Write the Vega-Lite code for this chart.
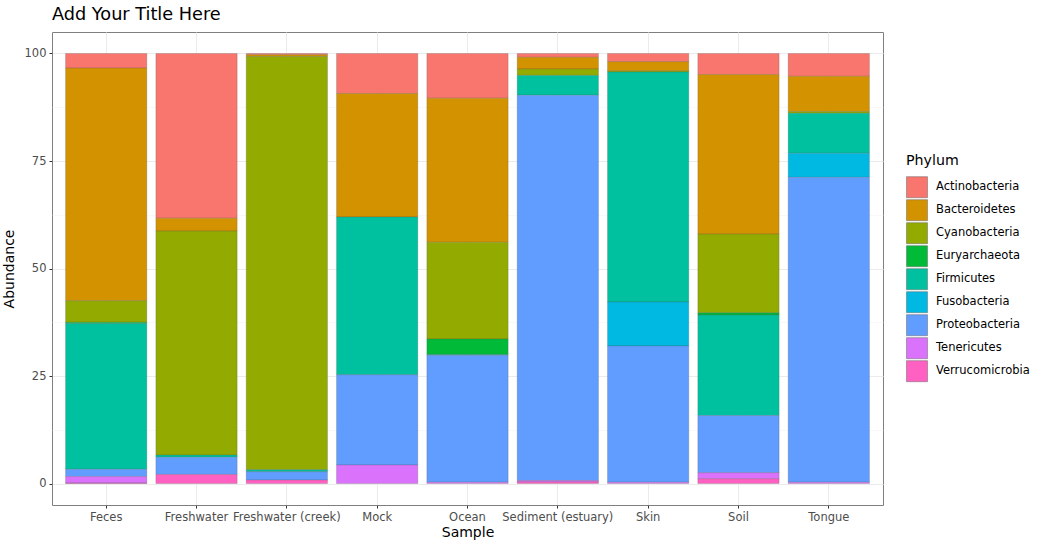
{
  "$schema": "https://vega.github.io/schema/vega-lite/v6.json",
  "autosize": {"type": "none"},
  "width": 831,
  "height": 473,
  "padding": {"left": 52, "top": 32, "right": 161, "bottom": 43},
  "background": "white",
  "config": {
    "font": "DejaVu Sans",
    "view": {"stroke": "#7f7f7f", "strokeWidth": 1},
    "axis": {"labelFont": "DejaVu Sans", "titleFont": "DejaVu Sans", "labelColor": "#4d4d4d", "labelFontSize": 11.5, "titleFontSize": 14, "titleFontWeight": "normal", "titleColor": "black", "tickColor": "#333333", "tickSize": 3, "domain": false, "gridColor": "#ebebeb"},
    "legend": {"labelFont": "DejaVu Sans", "titleFont": "DejaVu Sans"}
  },
  "title": {"text": "Add Your Title Here", "anchor": "start", "frame": "group", "fontSize": 17.7, "fontWeight": "normal", "font": "DejaVu Sans", "color": "black", "offset": 8},
  "data": {"values": [
    {"Sample": "Feces", "Phylum": "Actinobacteria", "Abundance": 3.4},
    {"Sample": "Feces", "Phylum": "Bacteroidetes", "Abundance": 54.1},
    {"Sample": "Feces", "Phylum": "Cyanobacteria", "Abundance": 5.0},
    {"Sample": "Feces", "Phylum": "Euryarchaeota", "Abundance": 0.3},
    {"Sample": "Feces", "Phylum": "Firmicutes", "Abundance": 33.9},
    {"Sample": "Feces", "Phylum": "Proteobacteria", "Abundance": 1.7},
    {"Sample": "Feces", "Phylum": "Tenericutes", "Abundance": 1.5},
    {"Sample": "Feces", "Phylum": "Verrucomicrobia", "Abundance": 0.1},
    {"Sample": "Freshwater", "Phylum": "Actinobacteria", "Abundance": 38.3},
    {"Sample": "Freshwater", "Phylum": "Bacteroidetes", "Abundance": 3.0},
    {"Sample": "Freshwater", "Phylum": "Cyanobacteria", "Abundance": 52.1},
    {"Sample": "Freshwater", "Phylum": "Firmicutes", "Abundance": 0.5},
    {"Sample": "Freshwater", "Phylum": "Proteobacteria", "Abundance": 4.0},
    {"Sample": "Freshwater", "Phylum": "Verrucomicrobia", "Abundance": 2.1},
    {"Sample": "Freshwater (creek)", "Phylum": "Actinobacteria", "Abundance": 0.3},
    {"Sample": "Freshwater (creek)", "Phylum": "Bacteroidetes", "Abundance": 0.4},
    {"Sample": "Freshwater (creek)", "Phylum": "Cyanobacteria", "Abundance": 96.1},
    {"Sample": "Freshwater (creek)", "Phylum": "Firmicutes", "Abundance": 0.45},
    {"Sample": "Freshwater (creek)", "Phylum": "Proteobacteria", "Abundance": 1.95},
    {"Sample": "Freshwater (creek)", "Phylum": "Verrucomicrobia", "Abundance": 0.8},
    {"Sample": "Mock", "Phylum": "Actinobacteria", "Abundance": 9.3},
    {"Sample": "Mock", "Phylum": "Bacteroidetes", "Abundance": 28.7},
    {"Sample": "Mock", "Phylum": "Firmicutes", "Abundance": 36.7},
    {"Sample": "Mock", "Phylum": "Proteobacteria", "Abundance": 21.0},
    {"Sample": "Mock", "Phylum": "Tenericutes", "Abundance": 4.3},
    {"Sample": "Ocean", "Phylum": "Actinobacteria", "Abundance": 10.4},
    {"Sample": "Ocean", "Phylum": "Bacteroidetes", "Abundance": 33.5},
    {"Sample": "Ocean", "Phylum": "Cyanobacteria", "Abundance": 22.5},
    {"Sample": "Ocean", "Phylum": "Euryarchaeota", "Abundance": 3.6},
    {"Sample": "Ocean", "Phylum": "Firmicutes", "Abundance": 0.2},
    {"Sample": "Ocean", "Phylum": "Proteobacteria", "Abundance": 29.5},
    {"Sample": "Ocean", "Phylum": "Tenericutes", "Abundance": 0.3},
    {"Sample": "Sediment (estuary)", "Phylum": "Actinobacteria", "Abundance": 0.9},
    {"Sample": "Sediment (estuary)", "Phylum": "Bacteroidetes", "Abundance": 2.7},
    {"Sample": "Sediment (estuary)", "Phylum": "Cyanobacteria", "Abundance": 1.5},
    {"Sample": "Sediment (estuary)", "Phylum": "Firmicutes", "Abundance": 4.6},
    {"Sample": "Sediment (estuary)", "Phylum": "Proteobacteria", "Abundance": 89.6},
    {"Sample": "Sediment (estuary)", "Phylum": "Tenericutes", "Abundance": 0.35},
    {"Sample": "Sediment (estuary)", "Phylum": "Verrucomicrobia", "Abundance": 0.35},
    {"Sample": "Skin", "Phylum": "Actinobacteria", "Abundance": 1.9},
    {"Sample": "Skin", "Phylum": "Bacteroidetes", "Abundance": 2.1},
    {"Sample": "Skin", "Phylum": "Cyanobacteria", "Abundance": 0.3},
    {"Sample": "Skin", "Phylum": "Firmicutes", "Abundance": 53.5},
    {"Sample": "Skin", "Phylum": "Fusobacteria", "Abundance": 10.2},
    {"Sample": "Skin", "Phylum": "Proteobacteria", "Abundance": 31.7},
    {"Sample": "Skin", "Phylum": "Tenericutes", "Abundance": 0.3},
    {"Sample": "Soil", "Phylum": "Actinobacteria", "Abundance": 4.9},
    {"Sample": "Soil", "Phylum": "Bacteroidetes", "Abundance": 37.1},
    {"Sample": "Soil", "Phylum": "Cyanobacteria", "Abundance": 18.3},
    {"Sample": "Soil", "Phylum": "Euryarchaeota", "Abundance": 0.5},
    {"Sample": "Soil", "Phylum": "Firmicutes", "Abundance": 23.4},
    {"Sample": "Soil", "Phylum": "Proteobacteria", "Abundance": 13.3},
    {"Sample": "Soil", "Phylum": "Tenericutes", "Abundance": 1.4},
    {"Sample": "Soil", "Phylum": "Verrucomicrobia", "Abundance": 1.1},
    {"Sample": "Tongue", "Phylum": "Actinobacteria", "Abundance": 5.3},
    {"Sample": "Tongue", "Phylum": "Bacteroidetes", "Abundance": 8.2},
    {"Sample": "Tongue", "Phylum": "Cyanobacteria", "Abundance": 0.4},
    {"Sample": "Tongue", "Phylum": "Firmicutes", "Abundance": 9.3},
    {"Sample": "Tongue", "Phylum": "Fusobacteria", "Abundance": 5.6},
    {"Sample": "Tongue", "Phylum": "Proteobacteria", "Abundance": 70.9},
    {"Sample": "Tongue", "Phylum": "Tenericutes", "Abundance": 0.3}
  ]},
  "mark": {"type": "bar", "stroke": "#555555", "strokeWidth": 0.4, "strokeOpacity": 0.6},
  "encoding": {
    "x": {
      "field": "Sample", "type": "nominal", "sort": null,
      "scale": {"paddingInner": 0.1, "paddingOuter": 0.15},
      "axis": {"labelAngle": 0, "grid": true, "gridColor": "#ebebeb", "bandPosition": 0.5, "titlePadding": 3, "labelPadding": 3}
    },
    "y": {
      "field": "Abundance", "type": "quantitative", "stack": "zero",
      "scale": {"domain": [-5, 105], "nice": false, "zero": false},
      "axis": {
        "values": [0, 12.5, 25, 37.5, 50, 62.5, 75, 87.5, 100],
        "labelExpr": "datum.value % 25 === 0 ? datum.label : ''",
        "gridColor": {"condition": {"test": "datum.value % 25 === 0", "value": "#ebebeb"}, "value": "#f4f4f4"},
        "gridWidth": {"condition": {"test": "datum.value % 25 === 0", "value": 1}, "value": 0.6},
        "tickOpacity": {"condition": {"test": "datum.value % 25 === 0", "value": 1}, "value": 0},
        "format": "d",
        "titlePadding": 8,
        "labelPadding": 3
      }
    },
    "color": {
      "field": "Phylum", "type": "nominal",
      "scale": {
        "domain": ["Actinobacteria", "Bacteroidetes", "Cyanobacteria", "Euryarchaeota", "Firmicutes", "Fusobacteria", "Proteobacteria", "Tenericutes", "Verrucomicrobia"],
        "range": ["#F8766D", "#D39200", "#93AA00", "#00BA38", "#00C19F", "#00B9E3", "#619CFF", "#DB72FB", "#FF61C3"]
      },
      "legend": {
        "orient": "none", "legendX": 854, "legendY": 122,
        "title": "Phylum", "titleFontSize": 14.2, "titleFontWeight": "normal", "titleColor": "black", "titlePadding": 8,
        "labelFontSize": 11.5, "labelColor": "black", "labelOffset": 8,
        "symbolType": "square", "symbolSize": 441, "symbolStrokeColor": "#666666", "symbolStrokeWidth": 0.5, "symbolOpacity": 1,
        "rowPadding": -1
      }
    },
    "order": {"field": "Phylum", "sort": "descending"}
  }
}
